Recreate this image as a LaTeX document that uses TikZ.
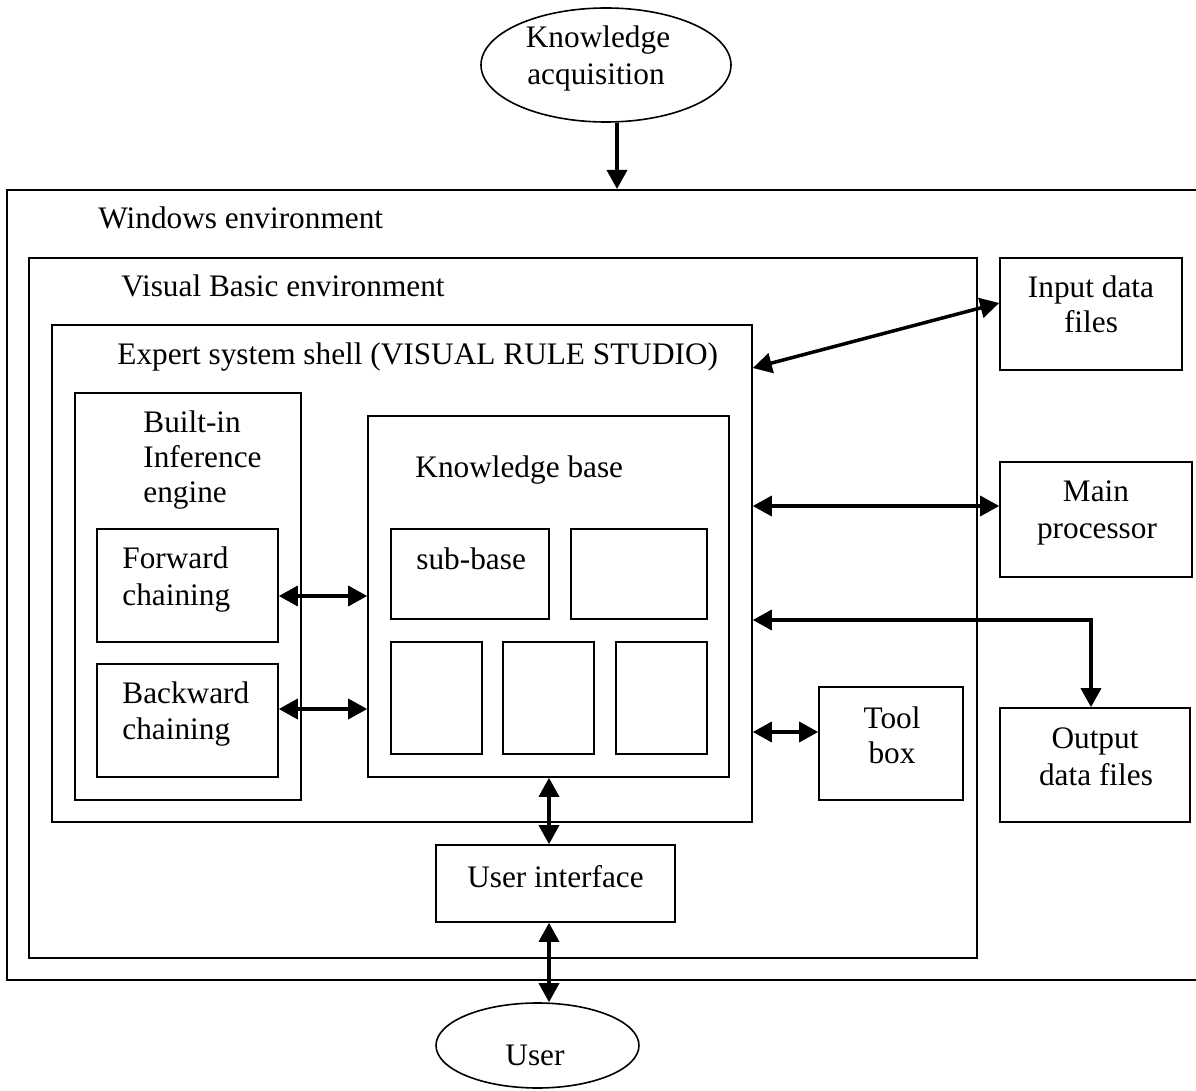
\documentclass[tikz,border=0pt]{standalone}
\usepackage{fontspec}
\setmainfont{Liberation Serif}
\usetikzlibrary{arrows.meta,shapes.geometric,fit}
\begin{document}
\begin{tikzpicture}[x=0.5pt,y=-0.5pt,
  frame/.style={draw, line width=1pt, inner sep=0pt},
  box/.style={draw, line width=0.8pt, inner sep=0pt},
  oval/.style={draw, ellipse, line width=0.8pt, inner sep=0pt},
  txt/.style={font=\fontsize{15.65}{18}\selectfont, inner sep=0pt},
  lbl/.style={txt, anchor=base west},
  ctr/.style={txt, anchor=base},
  arr/.style={line width=1.75pt, {Triangle[length=9.5pt,width=10pt]}-{Triangle[length=9.5pt,width=10pt]}},
  arrone/.style={line width=1.75pt, -{Triangle[length=9.5pt,width=10pt]}}]
\useasboundingbox (0,0) rectangle (1196,1091);

% ellipses
\node[oval, minimum width=125pt, minimum height=57pt] (ka) at (606,65) {};
\node[ctr] (kat1) at (598,48) {Knowledge};
\node[ctr] (kat2) at (596,85) {acquisition};
\node[oval, minimum width=101.5pt, minimum height=42.5pt] (user) at (537.5,1045.5) {};
\node[ctr] (usert) at (535,1065) {User};

% frames
\node[frame, fit={(7,190) (1202,980)}] (win) {};
\node[lbl] (wint) at (98,229) {Windows environment};
\node[frame, fit={(29,258) (977,958)}] (vb) {};
\node[lbl] (vbt) at (121,297) {Visual Basic environment};
\node[box, fit={(52,325) (752,822)}] (shell) {};
\node[lbl] (shellt) at (117,365) {Expert system shell (VISUAL RULE STUDIO)};

% inference engine
\node[box, fit={(75,393) (301,800)}] (inf) {};
\node[lbl] (inft1) at (143,433) {Built-in};
\node[lbl] (inft2) at (143,468) {Inference};
\node[lbl] (inft3) at (143,503) {engine};
\node[box, fit={(97,529) (278,642)}] (fwd) {};
\node[lbl] (fwdt1) at (122,569) {Forward};
\node[lbl] (fwdt2) at (122,605) {chaining};
\node[box, fit={(97,664) (278,777)}] (bwd) {};
\node[lbl] (bwdt1) at (122,704) {Backward};
\node[lbl] (bwdt2) at (122,740) {chaining};

% knowledge base
\node[box, fit={(368,416) (729,777)}] (kb) {};
\node[lbl] (kbt) at (415,478) {Knowledge base};
\node[box, fit={(391,529) (549,619)}] (sb1) {};
\node[lbl] (sb1t) at (416,570) {sub-base};
\node[box, fit={(571,529) (707,619)}] (sb2) {};
\node[box, fit={(391,642) (482,754)}] (sb3) {};
\node[box, fit={(503,642) (594,754)}] (sb4) {};
\node[box, fit={(616,642) (707,754)}] (sb5) {};

% user interface
\node[box, fit={(436,845) (675,922)}] (ui) {};
\node[ctr] (uit) at (555.5,887) {User interface};

% right side boxes
\node[box, fit={(1000,258) (1182,370)}] (inp) {};
\node[ctr] (inpt1) at (1091,298) {Input data};
\node[ctr] (inpt2) at (1091,333) {files};
\node[box, fit={(1000,462) (1192,577)}] (mp) {};
\node[ctr] (mpt1) at (1096,502) {Main};
\node[ctr] (mpt2) at (1097,539) {processor};
\node[box, fit={(819,687) (963,800)}] (tb) {};
\node[ctr] (tbt1) at (892,728) {Tool};
\node[ctr] (tbt2) at (892,763) {box};
\node[box, fit={(1000,708) (1190,822)}] (out) {};
\node[ctr] (outt1) at (1095,748) {Output};
\node[ctr] (outt2) at (1096,785) {data files};

% helper coordinates
\coordinate (kaX) at (617,0);
\coordinate (yInpL) at (0,368);
\coordinate (yInpR) at (0,303);
\coordinate (yMp) at (0,506);
\coordinate (yOut) at (0,620);
\coordinate (xOut) at (1091,0);
\coordinate (yTb) at (0,732);
\coordinate (yF) at (0,596);
\coordinate (yB) at (0,709);
\coordinate (xU) at (549,0);

% connectors
\draw[arrone] (ka.south -| kaX) -- (win.north -| kaX);
\draw[arr] (shell.east |- yInpL) -- (inp.west |- yInpR);
\draw[arr] (shell.east |- yMp) -- (mp.west |- yMp);
\draw[arr] (shell.east |- yOut) -- (xOut |- yOut) -- (out.north -| xOut);
\draw[arr] (shell.east |- yTb) -- (tb.west |- yTb);
\draw[arr] (fwd.east |- yF) -- (kb.west |- yF);
\draw[arr] (bwd.east |- yB) -- (kb.west |- yB);
\draw[arr] (kb.south -| xU) -- (ui.north -| xU);
\draw[arr] (ui.south -| xU) -- (user.north -| xU);
\end{tikzpicture}
\end{document}
